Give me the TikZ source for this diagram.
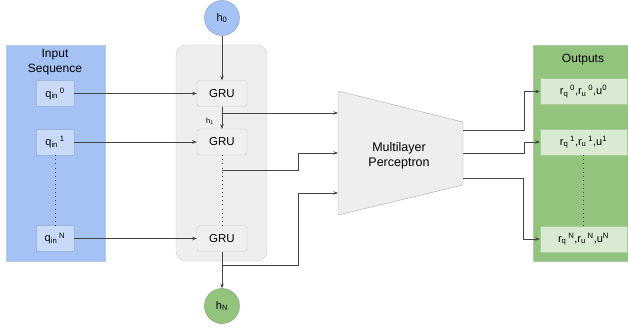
\documentclass[tikz,border=0pt]{standalone}
\usepackage{fontspec}
\setmainfont{Liberation Sans}
\usetikzlibrary{arrows.meta}
\definecolor{inblue}{HTML}{A4C2F4}
\definecolor{qblue}{HTML}{C9DAF8}
\definecolor{qborder}{HTML}{9FB6E0}
\definecolor{outgreen}{HTML}{93C47D}
\definecolor{rgreen}{HTML}{D9EAD3}
\definecolor{rborder}{HTML}{A8CC98}
\definecolor{contgray}{HTML}{EEEEEE}
\definecolor{contborder}{HTML}{CCCCCC}
\definecolor{grugray}{HTML}{EFEFEF}
\definecolor{lineclr}{HTML}{444444}
\tikzset{
  panel/.style={draw=#1!85!black!60, fill=#1, line width=0.4pt},
  qbox/.style={draw=qborder, fill=qblue, minimum width=38pt, minimum height=26pt, inner sep=0pt, font=\fontsize{11}{13}\selectfont},
  rbox/.style={draw=rborder, fill=rgreen, minimum width=87pt, minimum height=26pt, inner sep=0pt, font=\fontsize{11}{13}\selectfont},
  grubox/.style={draw=contborder, fill=grugray, rounded corners=3pt, minimum width=50pt, minimum height=26pt, inner sep=0pt, font=\fontsize{11.5}{13}\selectfont},
  hcirc/.style={circle, draw=#1!80!black, fill=#1, minimum size=35pt, inner sep=0pt, font=\fontsize{11}{13}\selectfont},
  conn/.style={draw=lineclr, line width=0.7pt},
  arr/.style={conn, -{Stealth[length=4.5pt,width=3.5pt]}},
  dots/.style={draw=lineclr, line width=0.9pt, dash pattern=on 0.9pt off 3.2pt},
  lbl/.style={font=\fontsize{12}{14.5}\selectfont, align=center, inner sep=0pt}
}
\begin{document}
\begin{tikzpicture}[x=1pt,y=-1pt]
\useasboundingbox (0,0) rectangle (628,329);
% panels
\draw[panel=inblue] (6,45) rectangle (105,261);
\node[lbl] (inlbl) at (55,62) {Input\\Sequence};
\draw[draw=contborder, fill=contgray, rounded corners=10pt] (176,45) rectangle (267,261);
\draw[panel=outgreen] (533,45) rectangle (628,261);
\node[lbl] (outlbl) at (583,60) {Outputs};
% input boxes
\node[qbox] (q0) at (55,93.5) {q\textsubscript{in}\,\textsuperscript{0}};
\node[qbox] (q1) at (55,142) {q\textsubscript{in}\,\textsuperscript{1}};
\node[qbox] (qN) at (55,238.5) {q\textsubscript{in}\,\textsuperscript{N}};
% GRU boxes
\node[grubox] (g0) at (222,93.5) {GRU};
\node[grubox] (g1) at (222,142) {GRU};
\node[grubox] (gN) at (222,238.5) {GRU};
% h circles
\node[hcirc=inblue] (h0) at (222,18) {h\textsubscript{0}};
\node[hcirc=outgreen] (hN) at (222,306) {h\textsubscript{N}};
% output boxes
\node[rbox] (r0) at (583.5,91.5) {r\textsubscript{q}\,\textsuperscript{0},r\textsubscript{u}\,\textsuperscript{0},u\textsuperscript{0}};
\node[rbox] (r1) at (583.5,142) {r\textsubscript{q}\,\textsuperscript{1},r\textsubscript{u}\,\textsuperscript{1},u\textsuperscript{1}};
\node[rbox] (rN) at (583.5,239) {r\textsubscript{q}\,\textsuperscript{N},r\textsubscript{u}\,\textsuperscript{N},u\textsuperscript{N}};
% MLP
\draw[draw=contborder!85!black, fill=contgray] (338,91) -- (463,122) -- (463,185) -- (338,215) -- cycle;
\node[lbl, font=\fontsize{12.5}{15}\selectfont] (mlp) at (399,156) {Multilayer\\Perceptron};
\coordinate (mi1) at (338,113);
\coordinate (mi2) at (338,153);
\coordinate (mi3) at (338,193);
\coordinate (mo1) at (463,130);
\coordinate (mo2) at (463,153);
\coordinate (mo3) at (463,178);
% branch points
\coordinate (b1) at (222,113);
\coordinate (b2) at (222,170);
\coordinate (b3) at (222,265);
% connectors
\draw[arr] (q0) -- (g0);
\draw[arr] (q1) -- (g1);
\draw[arr] (qN) -- (gN);
\draw[arr] (h0) -- (g0);
\draw[arr] (g0) -- (g1);
\node[font=\fontsize{7.5}{8}\selectfont, inner sep=0pt] (h1lbl) at (210,121) {h\textsubscript{1}};
\draw[arr] (gN) -- (hN);
\draw[dots] (q1.south) -- (qN.north);
\draw[dots] (g1.south) -- (gN.north);
\draw[dots] (r1.south) -- (rN.north);
\draw[arr] (b1) -- (mi1);
\draw[arr] (b2) -- (298,170) -- (298,153) -- (mi2);
\draw[arr] (b3) -- (298,265) -- (298,193) -- (mi3);
\draw[arr] (mo1) -- (524,130) |- (r0.west);
\draw[arr] (mo2) -- (524,153) |- (r1.west);
\draw[arr] (mo3) -- (523,178) |- (rN.west);
\end{tikzpicture}
\end{document}
